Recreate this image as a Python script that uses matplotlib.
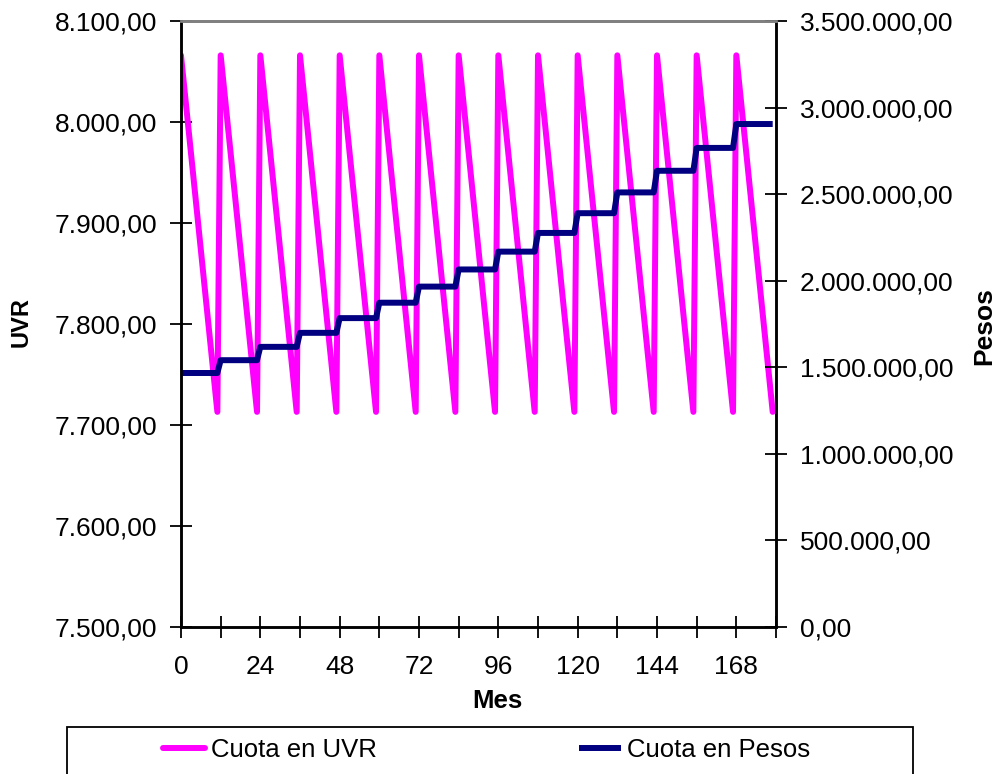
"""
Cuota en UVR vs Cuota en Pesos
"""
import numpy as np
import matplotlib
matplotlib.use("Agg")
import matplotlib.pyplot as plt
from matplotlib.patches import Rectangle
from matplotlib.ticker import FuncFormatter, MultipleLocator

plt.rcParams['font.family'] = ['Liberation Sans', 'DejaVu Sans']

# datos
meses = np.arange(0, 180)
# cuota en UVR dentro de cada anio (mes 0..11), se repite cada anio
cuota_uvr_anio = [8066, 8034, 8002, 7970, 7938, 7906, 7874, 7842, 7810, 7777, 7745, 7713]
# cuota en pesos, un valor por anio (15 anios)
cuota_pesos_anio = [1467000, 1541000, 1618000, 1699000, 1784000, 1873000, 1966000, 2065000,
                    2168000, 2276000, 2390000, 2510000, 2635000, 2767000, 2905000]

cuota_uvr = np.tile(cuota_uvr_anio, len(cuota_pesos_anio))
cuota_pesos = np.repeat(cuota_pesos_anio, 12)


def fmt_es(v, pos=None):
    s = "{:,.2f}".format(v)
    return s.replace(",", "X").replace(".", ",").replace("X", ".")


fig = plt.figure(figsize=(9.99, 7.74), dpi=100)
ax = fig.add_axes([181 / 999, 1 - 627 / 774, 595 / 999, 606 / 774])
ax2 = ax.twinx()

ax.plot(meses, cuota_uvr, color="#FF00FF", lw=4.3, solid_joinstyle="round",
        solid_capstyle="round", label="Cuota en UVR")
ax2.plot(meses, cuota_pesos, color="#000080", lw=4.3, solid_joinstyle="round",
         solid_capstyle="butt", label="Cuota en Pesos")

ax.set_xlim(0, 180)
ax.set_ylim(7500, 8100)
ax2.set_ylim(0, 3500000)
ax.yaxis.set_major_locator(MultipleLocator(100))
ax2.yaxis.set_major_locator(MultipleLocator(500000))
ax.yaxis.set_major_formatter(FuncFormatter(fmt_es))
ax2.yaxis.set_major_formatter(FuncFormatter(fmt_es))

ax.set_xticks(np.arange(0, 181, 12))
ax.set_xticklabels([str(m) if m % 24 == 0 and m < 180 else "" for m in range(0, 181, 12)])

ax.tick_params(axis="y", direction="inout", length=16, width=1.3, labelsize=19, pad=9)
ax.tick_params(axis="x", direction="inout", length=16, width=1.3, labelsize=19, pad=12)
ax2.tick_params(axis="y", direction="inout", length=16, width=1.3, labelsize=19, pad=9)

for a in (ax, ax2):
    a.spines["top"].set_color("#808080")
    a.spines["top"].set_linewidth(2)
    a.spines["left"].set_linewidth(1.8)
    a.spines["right"].set_linewidth(1.8)
    a.spines["bottom"].set_linewidth(1.8)

fig.text(21 / 999, 1 - 322 / 774, "UVR", rotation=90, fontsize=17, fontweight="bold",
         ha="center", va="center")
fig.text(984 / 999, 1 - 326 / 774, "Pesos", rotation=90, fontsize=19, fontweight="bold",
         ha="center", va="center")
fig.text(497 / 999, 1 - 701 / 774, "Mes", fontsize=18.5, fontweight="bold",
         ha="center", va="center")

# caja de leyenda (cortada abajo como en el original)
fig.patches.append(Rectangle((67 / 999, -0.05), (913 - 67) / 999, 0.05 + 1 - 727 / 774,
                             transform=fig.transFigure, fill=False, edgecolor="black",
                             lw=1.3))
h1, l1 = ax.get_legend_handles_labels()
h2, l2 = ax2.get_legend_handles_labels()
fig.legend(h1 + h2, l1 + l2, loc="center left", bbox_to_anchor=(163 / 999, 1 - 750 / 774),
           ncol=2, frameon=False, fontsize=18.5, handlelength=1.62, handletextpad=0.23,
           columnspacing=7.9, borderpad=0, borderaxespad=0)

fig.savefig("out.png", dpi=100)
